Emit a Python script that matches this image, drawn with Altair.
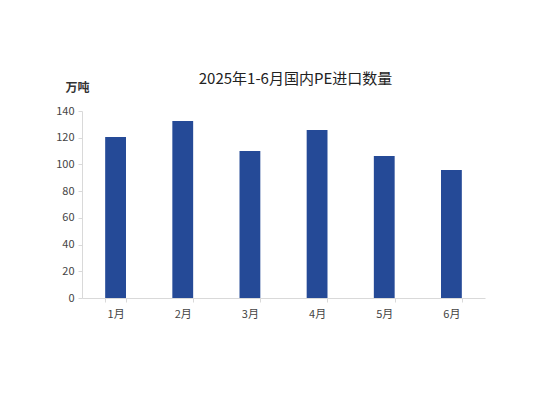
import altair as alt
import pandas as pd

months = ["1月", "2月", "3月", "4月", "5月", "6月"]
values = [120.5, 132.5, 110.0, 125.7, 106.3, 95.8]
y_ticks = [0, 20, 40, 60, 80, 100, 120, 140]

df = pd.DataFrame({"month": months, "value": values})

font = "Noto Sans CJK SC"

chart = (
    alt.Chart(df)
    .mark_bar(color="#254A97")
    .encode(
        x=alt.X(
            "month:N",
            sort=months,
            scale=alt.Scale(paddingInner=0.69, paddingOuter=0.345),
            axis=alt.Axis(
                title=None,
                labelAngle=0,
                labelFont=font,
                labelFontSize=11,
                labelColor="#444444",
                labelPadding=6,
                domainColor="#d9d9d9",
                tickColor="#d9d9d9",
                tickBand="extent",
                tickSize=4,
                grid=False,
            ),
        ),
        y=alt.Y(
            "value:Q",
            scale=alt.Scale(domain=[0, 140]),
            axis=alt.Axis(
                title="万吨",
                titleAngle=0,
                titleX=-5,
                titleY=-24,
                titleAlign="center",
                titleBaseline="middle",
                titleFont=font,
                titleFontSize=12,
                titleFontWeight="bold",
                titleColor="#333333",
                values=y_ticks,
                labelFont=font,
                labelFontSize=11,
                labelColor="#444444",
                labelPadding=4,
                domainColor="#d9d9d9",
                tickColor="#d9d9d9",
                tickSize=4,
                grid=False,
            ),
        ),
    )
    .properties(
        width=403,
        height=187,
        background="white",
        autosize=alt.AutoSizeParams(type="none"),
        padding={"left": 74, "top": 103, "right": 50, "bottom": 80},
        title=alt.TitleParams(
            "2025年1-6月国内PE进口数量",
            font=font,
            fontSize=15,
            fontWeight="normal",
            color="#222222",
            anchor="middle",
            dx=12,
            offset=-6,
        ),
    )
    .configure_view(stroke="transparent", strokeWidth=0)
)

chart.save("out.html", embed_options={"renderer": "svg", "actions": False})
